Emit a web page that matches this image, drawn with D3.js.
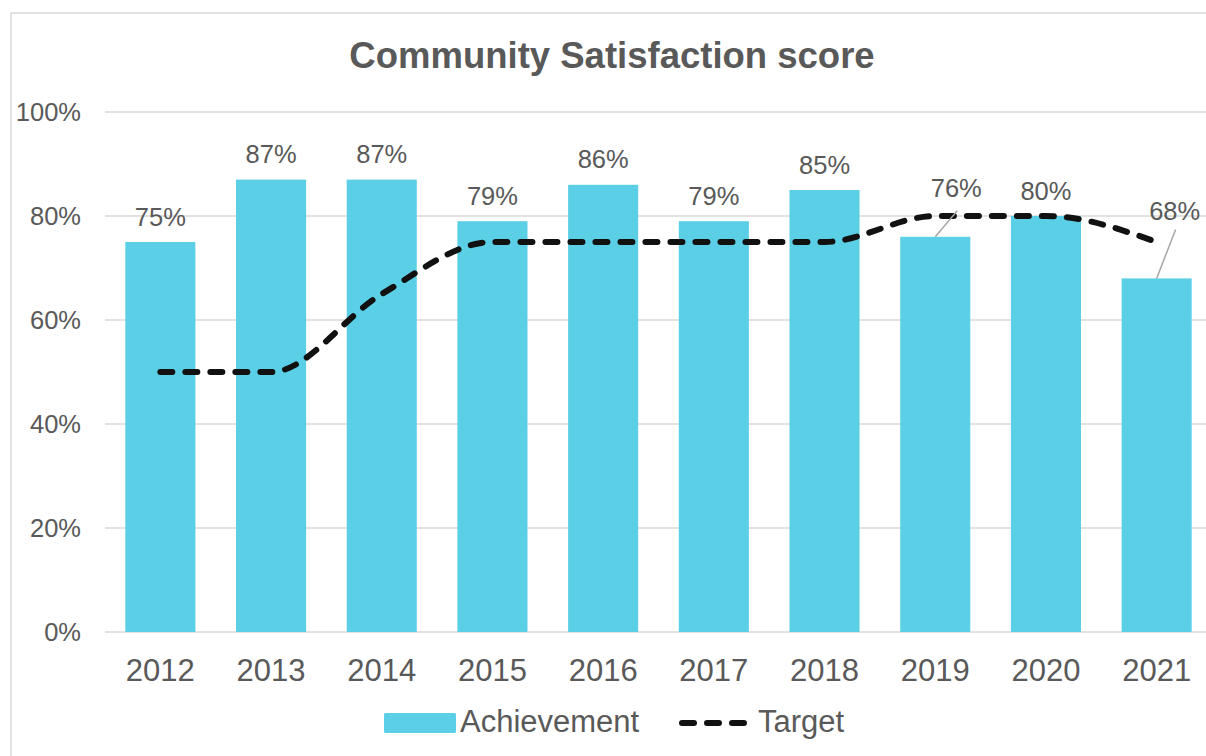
<!DOCTYPE html>
<html>
<head>
<meta charset="utf-8">
<script src="https://cdn.jsdelivr.net/npm/d3@7"></script>
<style>
  body { margin: 0; background: #fff; }
  svg { display: block; font-family: "Liberation Sans", Arial, sans-serif; }
</style>
</head>
<body>
<div id="chart"></div>
<script>
// chart data
var years = ["2012","2013","2014","2015","2016","2017","2018","2019","2020","2021"];
var achievement = [75, 87, 87, 79, 86, 79, 85, 76, 80, 68];
var target = [50, 50, 65, 75, 75, 75, 75, 80, 80, 75];
var yTicks = [0, 20, 40, 60, 80, 100];

var W = 1206, H = 756;
var textCol = "#595959", barCol = "#5BCFE6", gridCol = "#d9d9d9";

var svg = d3.select("#chart").append("svg").attr("width", W).attr("height", H);

// outer chart border (runs off right/bottom edge)
svg.append("rect")
  .attr("x", 11).attr("y", 13).attr("width", 1230).attr("height", 780)
  .attr("fill", "none").attr("stroke", gridCol).attr("stroke-width", 1.5);

var x = d3.scaleBand().domain(years).range([105, 1212]).paddingInner(0.367).paddingOuter(0.1835);
var y = d3.scaleLinear().domain([0, 100]).range([632, 112]);

svg.append("text")
  .attr("x", 612).attr("y", 68)
  .attr("text-anchor", "middle")
  .attr("font-size", 36.5).attr("font-weight", "bold").attr("fill", textCol)
  .text("Community Satisfaction score");

// gridlines
svg.selectAll(".grid").data(yTicks).enter().append("line")
  .attr("x1", 105).attr("x2", 1212)
  .attr("y1", d => y(d)).attr("y2", d => y(d))
  .attr("stroke", gridCol).attr("stroke-width", 1.5);

// y tick labels
svg.selectAll(".ylab").data(yTicks).enter().append("text")
  .attr("x", 81).attr("y", d => y(d)).attr("dy", "0.36em")
  .attr("text-anchor", "end").attr("font-size", 25.5).attr("fill", textCol)
  .text(d => d + "%");

// bars
svg.selectAll(".bar").data(achievement).enter().append("rect")
  .attr("x", (d, i) => x(years[i]))
  .attr("y", d => y(d))
  .attr("width", x.bandwidth())
  .attr("height", d => y(0) - y(d))
  .attr("fill", barCol);

// x labels
svg.selectAll(".xlab").data(years).enter().append("text")
  .attr("x", d => x(d) + x.bandwidth() / 2).attr("y", 681)
  .attr("text-anchor", "middle").attr("font-size", 31).attr("fill", textCol)
  .text(d => d);

// target line
var line = d3.line()
  .x((d, i) => x(years[i]) + x.bandwidth() / 2)
  .y(d => y(d))
  .curve(d3.curveMonotoneX);

svg.append("path").datum(target)
  .attr("d", line)
  .attr("fill", "none").attr("stroke", "#111").attr("stroke-width", 6)
  .attr("stroke-linecap", "round").attr("stroke-dasharray", "12,13");

// data labels; two were dragged off their bars, with leader lines
// [label dx, label baseline dy, leader end dx, leader end dy] from bar top centre
var labelShift = { "2019": [21, -40, 22, -26], "2021": [18, -58, 19, -49] };
achievement.forEach(function(v, i) {
  var cx = x(years[i]) + x.bandwidth() / 2;
  var s = labelShift[years[i]];
  if (s) {
    svg.append("line")
      .attr("x1", cx).attr("y1", y(v))
      .attr("x2", cx + s[2]).attr("y2", y(v) + s[3])
      .attr("stroke", "#a6a6a6").attr("stroke-width", 1.5);
    svg.append("text").attr("x", cx + s[0]).attr("y", y(v) + s[1])
      .attr("text-anchor", "middle").attr("font-size", 25.5).attr("fill", textCol)
      .text(v + "%");
  } else {
    svg.append("text").attr("x", cx).attr("y", y(v) - 16.5)
      .attr("text-anchor", "middle").attr("font-size", 25.5).attr("fill", textCol)
      .text(v + "%");
  }
});

// legend
var leg = svg.append("g");
leg.append("rect").attr("x", 384).attr("y", 713).attr("width", 72).attr("height", 20)
  .attr("rx", 1.5).attr("fill", barCol);
leg.append("text").attr("x", 460).attr("y", 732)
  .attr("font-size", 31).attr("fill", textCol).text("Achievement");
leg.append("line").attr("x1", 682).attr("x2", 748).attr("y1", 723).attr("y2", 723)
  .attr("stroke", "#111").attr("stroke-width", 6)
  .attr("stroke-linecap", "round").attr("stroke-dasharray", "12,13");
leg.append("text").attr("x", 758).attr("y", 732)
  .attr("font-size", 31).attr("fill", textCol).text("Target");
</script>
</body>
</html>
